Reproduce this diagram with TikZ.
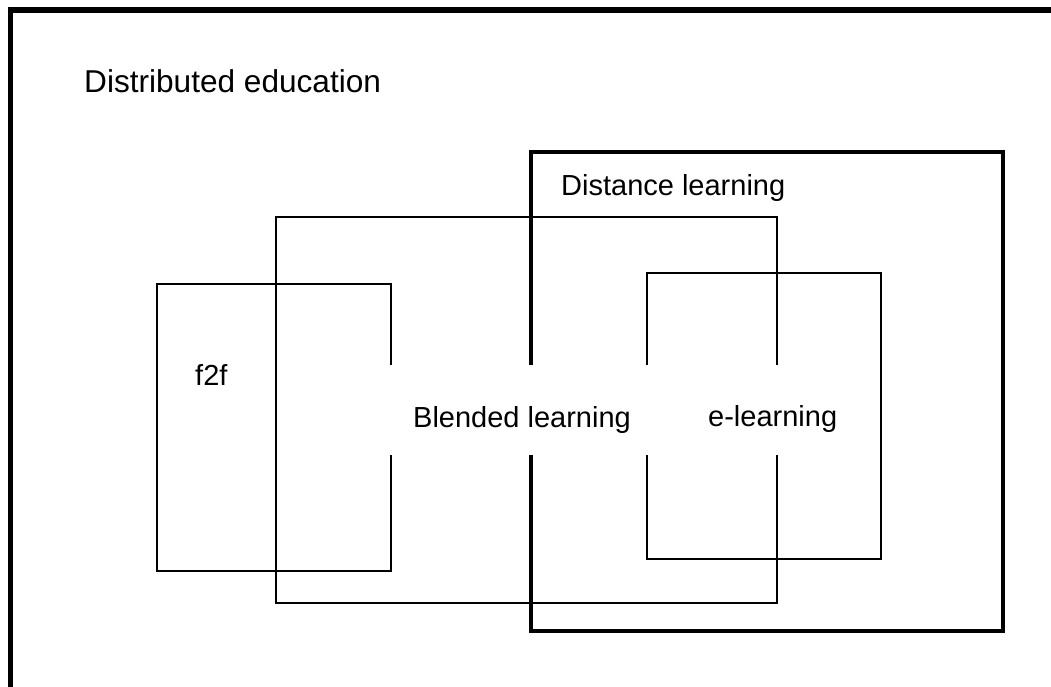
\documentclass[tikz,border=0pt]{standalone}
\usepackage{fontspec}
\setmainfont{Liberation Sans}
\begin{document}
\begin{tikzpicture}[x=1pt,y=-1pt,
  thinbox/.style={draw=black,line width=2.3pt},
  thickbox/.style={draw=black,line width=3.8pt},
  outerbox/.style={draw=black,line width=5.5pt},
  lbl/.style={anchor=base west,inner sep=0pt,font=\fontsize{29}{35}\selectfont},
  titlelbl/.style={anchor=base west,inner sep=0pt,font=\fontsize{31.6}{38}\selectfont}]
\useasboundingbox (0,0) rectangle (1051,686);
\clip (0,0) rectangle (1051,686);
% outer frame (runs off the right and bottom edges)
\draw[outerbox] (10.5,10) rectangle (1100,760);
% sets
\draw[thickbox] (531,152) rectangle (1003,631);
\draw[thinbox] (276,217) rectangle (777,603);
\draw[thinbox] (157,284) rectangle (391,571);
\draw[thinbox] (647,273) rectangle (881,559);
% white band behind the centre labels
\fill[white] (382,365) rectangle (788,455);
% labels
\node[titlelbl] (dist) at (84,92) {Distributed education};
\node[lbl] (dl) at (561,195) {Distance learning};
\node[lbl] (f2f) at (195,385) {f2f};
\node[lbl] (bl) at (413,427) {Blended learning};
\node[lbl] (el) at (708,426) {e-learning};
\end{tikzpicture}
\end{document}
